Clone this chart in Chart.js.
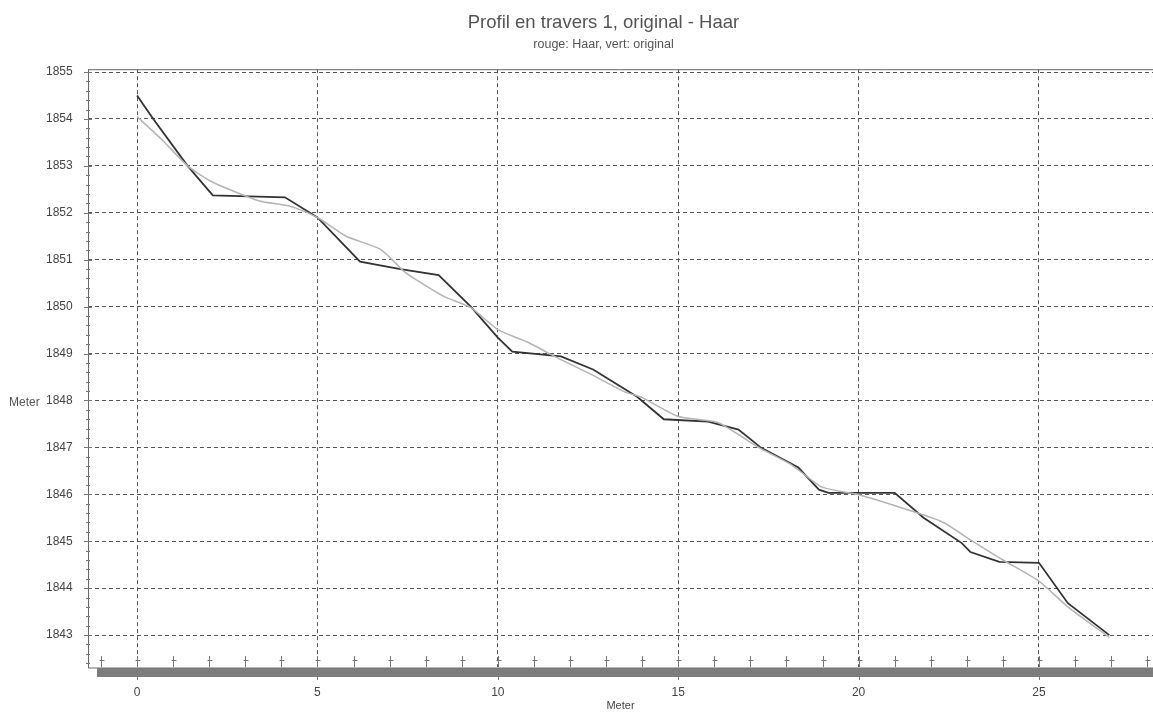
<!DOCTYPE html>
<html>
<head>
<meta charset="utf-8">
<script src="https://cdn.jsdelivr.net/npm/chart.js@4.4.1/dist/chart.umd.min.js"></script>
<style>
  html, body { margin: 0; padding: 0; background: #fff; }
  #c { display: block; }
</style>
</head>
<body>
<canvas id="c" width="1153" height="713"></canvas>
<script>
const haarX = [0, 0.45, 1.4, 2.1, 4.1, 5.0, 6.18, 7.3, 8.36, 9.25, 10.0, 10.4, 11.75, 12.64, 13.86, 14.6, 15.83, 16.67, 17.3, 18.33, 18.9, 19.17, 21.0, 21.8, 22.86, 23.1, 23.9, 25.0, 25.8, 26.95];
const haarY = [1854.5, 1854.0, 1853.0, 1852.37, 1852.33, 1851.9, 1850.96, 1850.8, 1850.67, 1850.0, 1849.34, 1849.04, 1848.94, 1848.66, 1848.08, 1847.6, 1847.55, 1847.38, 1846.99, 1846.57, 1846.1, 1846.03, 1846.03, 1845.5, 1844.96, 1844.77, 1844.56, 1844.54, 1843.68, 1843.0];

const origX = [0, 0.7, 1.4, 2.1, 3.4, 4.25, 5.0, 5.8, 6.75, 7.4, 7.72, 8.5, 9.25, 10.0, 10.83, 11.75, 12.6, 13.5, 14.0, 15.0, 16.1, 17.2, 18.14, 18.97, 20.0, 21.2, 22.3, 23.1, 24.0, 25.0, 25.8, 26.95];
const origY = [1854.05, 1853.55, 1853.0, 1852.65, 1852.25, 1852.14, 1851.9, 1851.5, 1851.22, 1850.75, 1850.58, 1850.22, 1849.98, 1849.51, 1849.24, 1848.87, 1848.55, 1848.19, 1848.06, 1847.66, 1847.53, 1847.01, 1846.63, 1846.16, 1845.99, 1845.71, 1845.42, 1845.03, 1844.6, 1844.15, 1843.6, 1842.95];

const xMin = -1.36, xMax = 28.16;
const yMin = 1842.32, yMax = 1855.06;

const FONT = '"Liberation Sans", Arial, sans-serif';
const toPts = (xs, ys) => xs.map((x, i) => ({ x, y: ys[i] }));

// --- décor: axes, barre du bas, petites graduations ---
const decor = {
    id: 'decor',
    afterDraw(chart) {
        const { ctx, chartArea: a, scales: { x, y } } = chart;
        ctx.save();
        // barre grise en bas
        ctx.fillStyle = '#7c7c7c';
        ctx.fillRect(a.left + 9, a.bottom, a.right - a.left - 9, 10);
        ctx.fillStyle = '#b5b5b5';
        ctx.fillRect(a.left + 9, a.bottom, a.right - a.left - 9, 1);

        ctx.strokeStyle = '#666';
        ctx.lineWidth = 1;
        ctx.beginPath();
        ctx.moveTo(a.left + 0.5, a.top);
        ctx.lineTo(a.left + 0.5, a.bottom + 1);
        ctx.lineTo(a.left + 9, a.bottom + 1);
        ctx.moveTo(a.left, a.top + 0.5);
        ctx.lineTo(a.right, a.top + 0.5);
        ctx.stroke();

        // graduations mineures axe Y
        ctx.strokeStyle = '#777';
        ctx.beginPath();
        for (let v = Math.ceil(yMin * 5) / 5; v <= yMax; v += 0.2) {
            const py = Math.round(y.getPixelForValue(v)) + 0.5;
            const major = Math.abs(v - Math.round(v)) < 0.01;
            ctx.moveTo(a.left - (major ? 4 : 2), py);
            ctx.lineTo(a.left + (major ? 4 : 2), py);
        }
        ctx.stroke();

        // petites croix sur l'axe X
        ctx.beginPath();
        for (let v = Math.ceil(xMin); v <= xMax; v++) {
            const px = Math.round(x.getPixelForValue(v)) + 0.5;
            ctx.moveTo(px, a.bottom - 11);
            ctx.lineTo(px, a.bottom);
            ctx.moveTo(px - 2, a.bottom - 6.5);
            ctx.lineTo(px + 3, a.bottom - 6.5);
            if (v % 5 === 0) {
                ctx.moveTo(px, a.bottom + 10);
                ctx.lineTo(px, a.bottom + 13);
            }
        }
        ctx.stroke();

        // titre de l'axe Y (horizontal)
        ctx.fillStyle = '#555';
        ctx.font = '12px ' + FONT;
        ctx.textAlign = 'left';
        ctx.textBaseline = 'middle';
        ctx.fillText('Meter', 9, y.getPixelForValue(1848) + 2);
        ctx.restore();
    }
};

const chart = new Chart(document.getElementById('c'), {
    type: 'line',
    data: {
        datasets: [
            { label: 'original', data: toPts(origX, origY), borderColor: '#b4b4b4', borderWidth: 1.5, pointRadius: 0, tension: 0.2, fill: false },
            { label: 'Haar', data: toPts(haarX, haarY), borderColor: '#333', borderWidth: 1.8, pointRadius: 0, tension: 0, fill: false }
        ]
    },
    options: {
        responsive: false,
        animation: false,
        devicePixelRatio: 1,
        layout: { padding: { left: 54, top: 12, right: 0, bottom: 0 } },
        plugins: {
            legend: { display: false },
            tooltip: { enabled: false },
            title: {
                display: true,
                text: 'Profil en travers 1, original - Haar',
                color: '#555',
                font: { family: FONT, size: 18.5, weight: 'normal' },
                padding: { top: 0, bottom: 3 }
            },
            subtitle: {
                display: true,
                text: 'rouge: Haar, vert: original',
                color: '#555',
                font: { family: FONT, size: 12.5 },
                padding: { top: 0, bottom: 17 }
            }
        },
        scales: {
            x: {
                type: 'linear',
                min: xMin, max: xMax,
                afterFit: s => { s.height = 46; s.paddingLeft = 0; s.paddingRight = 0; },
                afterBuildTicks: s => {
                    s.ticks = [];
                    for (let v = Math.ceil(xMin); v <= xMax; v++) s.ticks.push({ value: v });
                },
                ticks: {
                    autoSkip: false, maxRotation: 0, padding: 18,
                    color: '#444',
                    font: { family: FONT, size: 12 },
                    callback: v => (v % 5 === 0 ? String(v) : '')
                },
                grid: {
                    drawTicks: false,
                    color: c => (c.tick && c.tick.value % 5 === 0 ? '#555' : 'rgba(0,0,0,0)')
                },
                border: { display: false, dash: [4, 3] },
                title: {
                    display: true, text: 'Meter', color: '#444',
                    font: { family: FONT, size: 11 },
                    padding: 0
                }
            },
            y: {
                min: yMin, max: yMax,
                afterFit: s => { s.width = 34; },
                afterBuildTicks: s => {
                    s.ticks = [];
                    for (let v = Math.ceil(yMin); v <= yMax; v++) s.ticks.push({ value: v });
                },
                ticks: {
                    mirror: true, crossAlign: 'near', padding: -42,
                    color: '#444',
                    font: { family: FONT, size: 12 },
                    callback: v => String(v)
                },
                grid: { drawTicks: false, color: '#555' },
                border: { display: false, dash: [4, 3] }
            }
        }
    },
    plugins: [decor]
});
</script>
</body>
</html>
